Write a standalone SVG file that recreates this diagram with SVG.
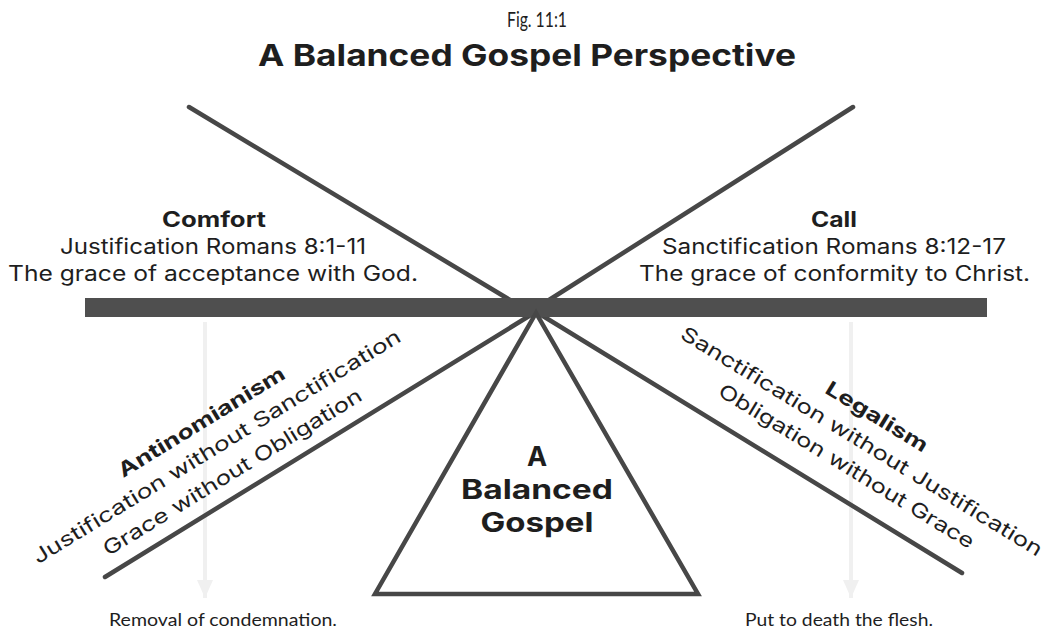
<svg xmlns="http://www.w3.org/2000/svg" width="1045" height="634" viewBox="0 0 1045 634">
<defs>
<style>
.ln{stroke:#474747;stroke-width:4.5;stroke-linecap:round;fill:none}
.faint{stroke:#f0f0f0;stroke-width:4;fill:none}
.t{font-family:Inter,"Noto Sans","Liberation Sans",sans-serif;fill:#1e1e1e}
.b{font-weight:700}
.m{text-anchor:middle}
.sm{font-family:Lato,"Liberation Sans",sans-serif;fill:#1e1e1e;font-size:18px;text-anchor:middle}
</style>
</defs>
<rect width="1045" height="634" fill="#ffffff"/>

<g id="title">
<text class="sm" x="537" y="27" font-size="21" style="font-size:21px" textLength="60" lengthAdjust="spacingAndGlyphs">Fig. 11:1</text>
<text class="t b m" x="527" y="66" font-size="30" textLength="538" lengthAdjust="spacingAndGlyphs">A Balanced Gospel Perspective</text>
</g>

<g id="connectors">
<line class="faint" x1="205" y1="322" x2="205" y2="598"/>
<path d="M197,580 L205,598 L213,580" fill="#f0f0f0" stroke="none"/>
<line class="faint" x1="851" y1="322" x2="851" y2="598"/>
<path d="M843,580 L851,598 L859,580" fill="#f0f0f0" stroke="none"/>
<line class="ln" x1="189" y1="107" x2="510" y2="300"/>
<line class="ln" x1="853" y1="107" x2="549" y2="300"/>
<line class="ln" x1="534" y1="313" x2="105" y2="577"/>
<line class="ln" x1="538" y1="313" x2="962" y2="573"/>
</g>

<g id="beam">
<rect x="85" y="298" width="902" height="19" fill="#4f4f4f"/>
</g>

<g id="fulcrum">
<polygon class="ln" points="536,313 375,594 698,594" stroke-linejoin="miter"/>
<text class="t b m" x="537" y="466" font-size="27">A</text>
<text class="t b m" x="537" y="499" font-size="27" textLength="152" lengthAdjust="spacingAndGlyphs">Balanced</text>
<text class="t b m" x="537" y="532" font-size="27" textLength="113" lengthAdjust="spacingAndGlyphs">Gospel</text>
</g>

<g id="comfort">
<text class="t b m" x="214" y="227" font-size="21" textLength="104" lengthAdjust="spacingAndGlyphs">Comfort</text>
<text class="t m" x="213" y="254" font-size="21" textLength="306" lengthAdjust="spacingAndGlyphs">Justification Romans 8:1-11</text>
<text class="t m" x="213" y="281" font-size="21" textLength="410" lengthAdjust="spacingAndGlyphs">The grace of acceptance with God.</text>
</g>

<g id="call">
<text class="t b m" x="834" y="227" font-size="21" textLength="46" lengthAdjust="spacingAndGlyphs">Call</text>
<text class="t m" x="834" y="254" font-size="21" textLength="344" lengthAdjust="spacingAndGlyphs">Sanctification Romans 8:12-17</text>
<text class="t m" x="834.5" y="281" font-size="21" textLength="391" lengthAdjust="spacingAndGlyphs">The grace of conformity to Christ.</text>
</g>

<g id="antinomianism" transform="translate(236,478) rotate(-31.6)">
<text class="t b m" x="0" y="-59" font-size="20" textLength="192" lengthAdjust="spacingAndGlyphs">Antinomianism</text>
<text class="t m" x="0" y="-30" font-size="20" textLength="428" lengthAdjust="spacingAndGlyphs">Justification without Sanctification</text>
<text class="t m" x="0" y="0" font-size="20" textLength="300" lengthAdjust="spacingAndGlyphs">Grace without Obligation</text>
</g>

<g id="legalism" transform="translate(843,472) rotate(31.5)">
<text class="t b m" x="0" y="-58" font-size="20" textLength="116" lengthAdjust="spacingAndGlyphs">Legalism</text>
<text class="t m" x="0" y="-29" font-size="20" textLength="420" lengthAdjust="spacingAndGlyphs">Sanctification without Justification</text>
<text class="t m" x="0" y="0" font-size="20" textLength="296" lengthAdjust="spacingAndGlyphs">Obligation without Grace</text>
</g>

<g id="removal">
<text class="sm" x="223" y="626" textLength="228" lengthAdjust="spacingAndGlyphs">Removal of condemnation.</text>
</g>
<g id="put-to-death">
<text class="sm" x="839" y="626" textLength="188" lengthAdjust="spacingAndGlyphs">Put to death the flesh.</text>
</g>
</svg>
